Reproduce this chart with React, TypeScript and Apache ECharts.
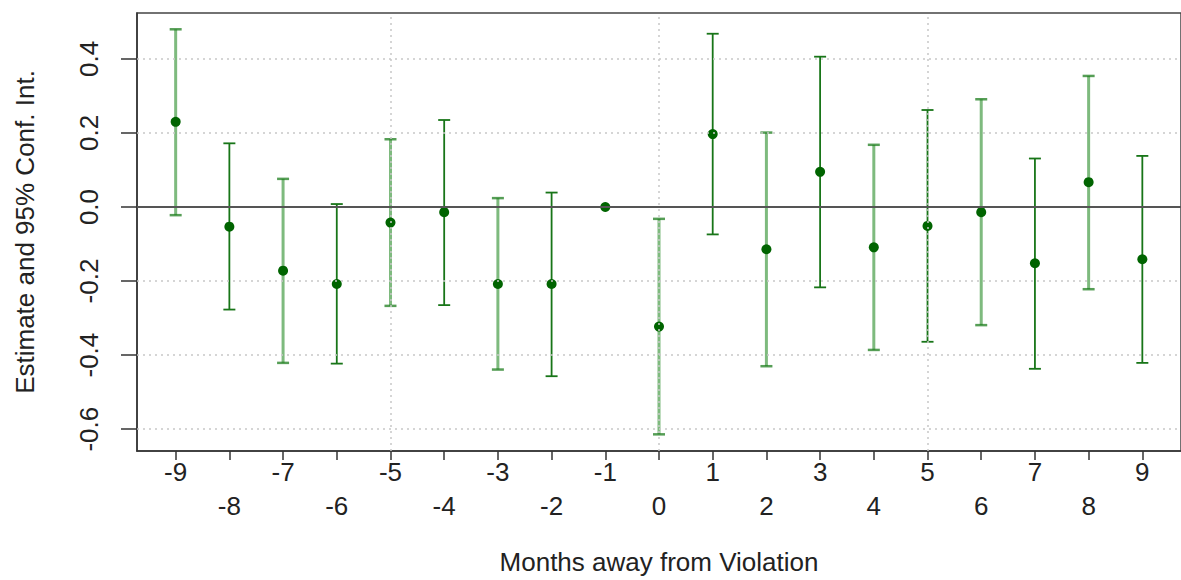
import React, { useEffect, useRef } from "react";
import * as echarts from "echarts";

const months = [-9, -8, -7, -6, -5, -4, -3, -2, -1, 0, 1, 2, 3, 4, 5, 6, 7, 8, 9];
const estimates = [0.23, -0.053, -0.172, -0.208, -0.042, -0.014, -0.208, -0.208, 0, -0.323, 0.197, -0.114, 0.095, -0.109, -0.051, -0.014, -0.152, 0.067, -0.141];
const lowerCI = [-0.022, -0.277, -0.421, -0.423, -0.267, -0.265, -0.439, -0.457, null, -0.614, -0.074, -0.43, -0.217, -0.386, -0.364, -0.319, -0.437, -0.222, -0.421];
const upperCI = [0.48, 0.172, 0.076, 0.008, 0.183, 0.235, 0.024, 0.039, null, -0.032, 0.468, 0.201, 0.406, 0.168, 0.262, 0.291, 0.131, 0.354, 0.138];
const barShade = ["light", "dark", "light", "dark", "light", "dark", "light", "dark", "none", "light", "dark", "light", "dark", "light", "dark", "light", "dark", "light", "dark"];
const yTicks = [-0.6, -0.4, -0.2, 0.0, 0.2, 0.4];
const hGrid = [-0.6, -0.4, -0.2, 0.2, 0.4];
const vGrid = [-5, 0, 5];
const xTitle = "Months away from Violation";
const yTitle = "Estimate and 95% Conf. Int.";

const FONT = "'Liberation Sans', Arial, Helvetica, sans-serif";

export default function App() {
  const ref = useRef<HTMLDivElement>(null);
  useEffect(() => {
    if (!ref.current) return;
    const chart = echarts.init(ref.current, undefined, { renderer: "svg" });
    const barData = months
      .map((m, i) => (lowerCI[i] == null ? null : [m, lowerCI[i], upperCI[i], barShade[i] === "dark" ? 1 : 0]))
      .filter((d) => d !== null);
    const option: any = {
      animation: false,
      backgroundColor: "#ffffff",
      grid: {
        left: 137,
        top: 13,
        width: 1050,
        height: 438,
        show: true,
        borderColor: "#444",
        borderWidth: 1.5,
        backgroundColor: "transparent",
      },
      xAxis: {
        type: "value",
        min: -9.72,
        max: 9.72,
        name: xTitle,
        nameLocation: "middle",
        nameGap: 98,
        nameTextStyle: { fontSize: 26, color: "#222", fontFamily: FONT },
        axisLine: { show: true, onZero: false, lineStyle: { color: "#333", width: 1.5 } },
        axisTick: { show: true, customValues: months, length: 9, lineStyle: { color: "#333", width: 1.5 } },
        axisLabel: {
          customValues: months,
          fontSize: 26,
          color: "#222",
          fontFamily: FONT,
          margin: 4,
          lineHeight: 34,
          formatter: (v: number) => (Math.abs(v) % 2 === 1 ? String(v) : "\n" + String(v)),
        },
        splitLine: { show: false },
      },
      yAxis: {
        type: "value",
        min: -0.659,
        max: 0.524,
        name: yTitle,
        nameLocation: "middle",
        nameGap: 99,
        nameRotate: 90,
        nameTextStyle: { fontSize: 26, color: "#222", fontFamily: FONT },
        axisLine: { show: true, onZero: false, lineStyle: { color: "#333", width: 1.5 } },
        axisTick: { show: true, customValues: yTicks, length: 16, lineStyle: { color: "#333", width: 1.5 } },
        axisLabel: {
          customValues: yTicks,
          rotate: 90,
          fontSize: 26,
          color: "#222",
          fontFamily: FONT,
          margin: 35,
          formatter: (v: number) => v.toFixed(1),
        },
        splitLine: { show: false },
      },
      series: [
        {
          type: "line",
          data: [],
          silent: true,
          z: 1,
          markLine: {
            silent: true,
            symbol: "none",
            label: { show: false },
            lineStyle: { type: [2, 4], color: "#c8c8c8", width: 1.5 },
            data: [
              ...hGrid.map((v) => ({ yAxis: v })),
              ...vGrid.map((v) => ({ xAxis: v })),
            ],
          },
        },
        {
          type: "line",
          data: [],
          silent: true,
          z: 2,
          markLine: {
            silent: true,
            symbol: "none",
            label: { show: false },
            lineStyle: { type: "solid", color: "#555", width: 2 },
            data: [{ yAxis: 0 }],
          },
        },
        {
          type: "custom",
          z: 3,
          data: barData,
          renderItem: (params: any, api: any) => {
            const x = api.value(0);
            const lo = api.value(1);
            const hi = api.value(2);
            const dark = api.value(3) === 1;
            const top = api.coord([x, hi]);
            const bot = api.coord([x, lo]);
            const half = 6;
            const barStyle = dark
              ? { stroke: "#187518", lineWidth: 1.8 }
              : { stroke: "rgba(40,140,40,0.6)", lineWidth: 3 };
            const capStyle = dark
              ? { stroke: "#187518", lineWidth: 1.8 }
              : { stroke: "rgba(30,125,30,0.75)", lineWidth: 2.5 };
            return {
              type: "group",
              children: [
                { type: "line", shape: { x1: top[0], y1: top[1], x2: bot[0], y2: bot[1] }, style: barStyle },
                { type: "line", shape: { x1: top[0] - half, y1: top[1], x2: top[0] + half, y2: top[1] }, style: capStyle },
                { type: "line", shape: { x1: bot[0] - half, y1: bot[1], x2: bot[0] + half, y2: bot[1] }, style: capStyle },
              ],
            };
          },
        },
        {
          type: "scatter",
          z: 4,
          symbol: "circle",
          symbolSize: 10,
          itemStyle: { color: "#006400", opacity: 1 },
          data: months.map((m, i) => [m, estimates[i]]),
        },
      ],
    };
    chart.setOption(option);
    return () => chart.dispose();
  }, []);
  return <div ref={ref} style={{ position: "absolute", left: 0, top: 0, width: 1181, height: 580 }} />;
}
